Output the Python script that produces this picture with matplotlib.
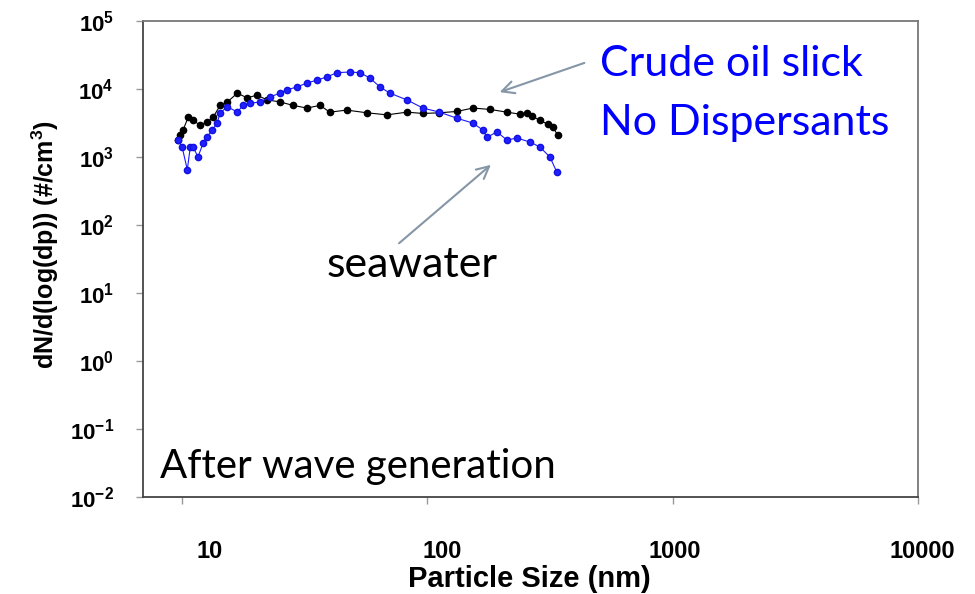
""" Particle size distribution after wave generation, log-log """
import matplotlib
matplotlib.use('Agg')
import matplotlib.pyplot as plt
import matplotlib.ticker as mticker
import matplotlib.transforms as mtransforms

# crude oil slick, no dispersants (blue)
oil_size = [9.6, 10.0, 10.5, 10.8, 11.1, 11.6, 12.2, 12.6, 13.3, 13.9, 14.3,
            15.3, 16.8, 17.7, 18.9, 20.8, 22.8, 25.0, 26.8, 29.4, 32.3, 35.5,
            39.0, 42.8, 48.3, 53.1, 58.3, 64.1, 70.3, 82.6, 95.9, 112, 132,
            153, 168, 175, 192, 211, 232, 262, 287, 316, 337]
oil_conc = [1780, 1410, 650, 1410, 1410, 1000, 1620, 1950, 2510, 3160, 4470,
            5500, 4570, 5750, 6170, 6460, 7590, 8710, 9770, 10700, 12300, 13500,
            15100, 17400, 17800, 17400, 14500, 10700, 8710, 6900, 5250, 4570, 3720,
            3160, 2510, 1950, 2340, 1780, 1900, 1660, 1410, 1000, 600]

# seawater (black)
sea_size = [9.6, 9.8, 10.1, 10.6, 11.1, 11.8, 12.6, 13.4, 14.3, 15.3, 16.8,
            18.4, 20.2, 22.2, 25.1, 28.3, 32.3, 36.5, 40.0, 46.9, 56.7, 68.4,
            82.6, 95.9, 112, 132, 153, 180, 211, 238, 254, 268, 287, 311, 325, 340]
sea_conc = [1780, 2090, 2510, 3890, 3470, 2950, 3240, 3890, 5750, 6460, 8710,
            7410, 8130, 6920, 6460, 5750, 5250, 5750, 4570, 4900, 4470, 4170,
            4570, 4370, 4470, 4680, 5250, 5010, 4570, 4270, 4470, 3980, 3470, 3020, 2750, 2090]

x_ticks = [10, 100, 1000, 10000]
x_labels = ['10', '100', '1000', '10000']
y_ticks = [1e-2, 1e-1, 1e0, 1e1, 1e2, 1e3, 1e4, 1e5]
y_labels = [r'$\mathbf{10^{-2}}$', r'$\mathbf{10^{-1}}$', r'$\mathbf{10^{0}}$',
            r'$\mathbf{10^{1}}$', r'$\mathbf{10^{2}}$', r'$\mathbf{10^{3}}$',
            r'$\mathbf{10^{4}}$', r'$\mathbf{10^{5}}$']

plt.rcParams['font.family'] = 'Liberation Sans'
plt.rcParams['mathtext.fontset'] = 'custom'
plt.rcParams['mathtext.rm'] = 'Liberation Sans'
plt.rcParams['mathtext.bf'] = 'Liberation Sans:bold'

fig = plt.figure(figsize=(9.75, 5.94), dpi=100)
ax = fig.add_axes([0.1467, 0.1633, 0.7948, 0.8013])

ax.plot(sea_size, sea_conc, color='black', lw=0.8, marker='o', ms=4.5,
        mec='black', mfc='black', zorder=3)
ax.plot(oil_size, oil_conc, color='#1a1aff', lw=0.8, marker='o', ms=4.5,
        mec='#1010e0', mfc='#2020ff', zorder=4)

ax.set_xscale('log')
ax.set_yscale('log')
ax.set_xlim(6.93, 10000)
ax.set_ylim(1e-2, 1e5)

ax.set_xticks(x_ticks)
ax.set_xticklabels(x_labels, fontweight='bold', fontsize=17)
ax.set_yticks(y_ticks)
ax.set_yticklabels(y_labels, fontsize=16)
ax.xaxis.set_minor_locator(mticker.NullLocator())
ax.yaxis.set_minor_locator(mticker.NullLocator())
ax.tick_params(axis='both', direction='out', length=5, color='#999999', width=1)
ax.tick_params(axis='x', pad=26)
ax.tick_params(axis='y', pad=16)

# the scanned labels sit a little right of their ticks
for lab, dx in zip(ax.get_xticklabels(), [28, 15, 2, 4]):
    lab.set_transform(lab.get_transform() +
                      mtransforms.ScaledTranslation(dx / 100, 0, fig.dpi_scale_trans))

for side in ['left', 'bottom']:
    ax.spines[side].set_color('#444444')
    ax.spines[side].set_linewidth(1.3)
for side in ['top', 'right']:
    ax.spines[side].set_color('#777777')
    ax.spines[side].set_linewidth(1.3)

ax.set_xlabel('Particle Size (nm)', fontweight='bold', fontsize=21)
ax.xaxis.set_label_coords(0.499, -0.172)
ax.xaxis.label.set_va('center')
ax.set_ylabel(r'dN/d(log(dp)) (#/cm$^{\mathbf{3}}$)', fontweight='bold',
              fontsize=18)
ax.yaxis.set_label_coords(-0.126, 0.53)
ax.yaxis.label.set_va('center')

# annotations
ax.text(0.590, 0.950, 'Crude oil slick\nNo Dispersants', transform=ax.transAxes,
        color='#0000ff', fontsize=31, family='Lato', va='top', ha='left',
        linespacing=1.68)
ax.text(0.347, 0.487, 'seawater', transform=ax.transAxes, color='black',
        fontsize=31, family='Lato', va='center', ha='center')
ax.text(0.022, 0.040, 'After wave generation', transform=ax.transAxes,
        color='black', fontsize=29, family='Lato', va='baseline', ha='left')

arrow_kw = dict(arrowstyle='->', color='#8596a6', lw=1.5, mutation_scale=22)
ax.annotate('', xy=(0.4568, 0.8487), xytext=(0.5729, 0.9139),
            xycoords='axes fraction', textcoords='axes fraction',
            arrowprops=arrow_kw)
ax.annotate('', xy=(0.4516, 0.7017), xytext=(0.3277, 0.5294),
            xycoords='axes fraction', textcoords='axes fraction',
            arrowprops=arrow_kw)

fig.savefig('out.png', dpi=100)
